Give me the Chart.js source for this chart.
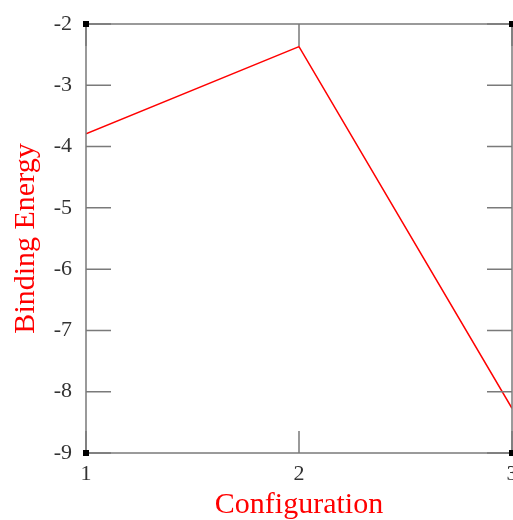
<!DOCTYPE html>
<html>
<head>
<meta charset="utf-8">
<script src="https://cdn.jsdelivr.net/npm/chart.js@4.4.0/dist/chart.umd.min.js"></script>
<style>
  html, body { margin: 0; padding: 0; background: #fff; overflow: hidden; }
  #wrap { width: 513px; height: 520px; overflow: hidden; }
</style>
</head>
<body>
<div id="wrap"><canvas id="chart" width="545" height="520"></canvas></div>
<script>
// data
const configurations = [1, 2, 3];
const bindingEnergy = [-3.79, -2.37, -8.27];
const yTicks = [-9, -8, -7, -6, -5, -4, -3, -2];

const SERIF = "'Liberation Serif', 'Times New Roman', serif";

// frame, inward ticks and corner squares
const framePlugin = {
  id: 'frame',
  afterDraw(chart) {
    const { ctx, chartArea: a, scales } = chart;
    ctx.save();
    ctx.strokeStyle = '#7a7a7a';
    ctx.lineWidth = 1.5;
    ctx.strokeRect(a.left, a.top, a.right - a.left, a.bottom - a.top);

    ctx.beginPath();
    scales.y.ticks.forEach(t => {
      const y = scales.y.getPixelForValue(t.value);
      ctx.moveTo(a.left, y); ctx.lineTo(a.left + 25, y);
      ctx.moveTo(a.right, y); ctx.lineTo(a.right - 25, y);
    });
    scales.x.ticks.forEach(t => {
      const x = scales.x.getPixelForValue(t.value);
      ctx.moveTo(x, a.top); ctx.lineTo(x, a.top + 22);
      ctx.moveTo(x, a.bottom); ctx.lineTo(x, a.bottom - 22);
    });
    ctx.stroke();

    ctx.fillStyle = '#000';
    [[a.left, a.top], [a.right, a.top], [a.left, a.bottom], [a.right, a.bottom]].forEach(([x, y]) => {
      ctx.fillRect(x - 3, y - 3, 6, 6);
    });
    ctx.restore();
  }
};

new Chart(document.getElementById('chart').getContext('2d'), {
  type: 'line',
  data: {
    labels: configurations,
    datasets: [{
      data: configurations.map((c, i) => ({ x: c, y: bindingEnergy[i] })),
      borderColor: '#ff0000',
      borderWidth: 1.5,
      pointRadius: 0,
      tension: 0,
      fill: false
    }]
  },
  options: {
    responsive: false,
    animation: false,
    layout: { padding: { top: 24, right: 33, left: 0, bottom: 0 } },
    plugins: { legend: { display: false }, tooltip: { enabled: false } },
    scales: {
      x: {
        type: 'linear',
        min: 1, max: 3,
        grid: { display: false },
        border: { display: false },
        afterFit(s) { s.height = 67; },
        ticks: {
          stepSize: 1,
          padding: 0,
          color: '#333',
          font: { family: SERIF, size: 22 }
        },
        title: {
          display: true,
          text: 'Configuration',
          color: '#ff0000',
          font: { family: SERIF, size: 30 },
          padding: { top: 0, bottom: -3 }
        }
      },
      y: {
        min: -9, max: -2,
        grid: { display: false },
        border: { display: false },
        afterFit(s) { s.width = 86; },
        afterBuildTicks(s) { s.ticks = yTicks.map(v => ({ value: v })); },
        ticks: {
          padding: 6,
          color: '#333',
          font: { family: SERIF, size: 22 }
        },
        title: {
          display: true,
          text: 'Binding Energy',
          color: '#ff0000',
          font: { family: SERIF, size: 30 },
          padding: { top: 8, bottom: 0 }
        }
      }
    }
  },
  plugins: [framePlugin]
});
</script>
</body>
</html>
